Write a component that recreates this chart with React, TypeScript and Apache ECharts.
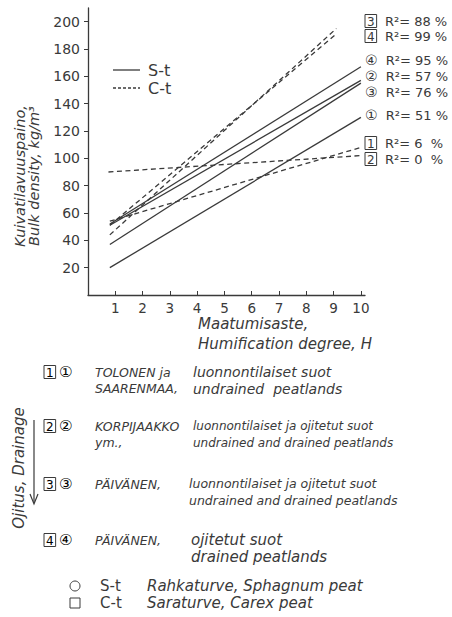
import React, { useEffect, useRef } from "react";
import * as echarts from "echarts";

const xTicks = [1, 2, 3, 4, 5, 6, 7, 8, 9, 10];
const yTicks = [20, 40, 60, 80, 100, 120, 140, 160, 180, 200];

// S-t (Sphagnum peat), solid lines, circled numbers
const st1 = [[0.8, 20], [10, 130]];
const st2 = [[0.8, 51], [10, 157]];
const st3 = [[0.8, 37], [10, 155]];
const st4 = [[0.8, 52], [10, 167]];
// C-t (Carex peat), dashed lines, boxed numbers
const ct1 = [[0.8, 54], [10, 108]];
const ct2 = [[0.75, 90], [10, 102]];
const ct3 = [[0.8, 44], [9.1, 195]];
const ct4 = [[0.8, 51], [9.1, 191]];

const rightLabels = [
  { mark: "box", n: "3", r2: "88 %" },
  { mark: "box", n: "4", r2: "99 %" },
  { mark: "circ", n: "④", r2: "95 %" },
  { mark: "circ", n: "②", r2: "57 %" },
  { mark: "circ", n: "③", r2: "76 %" },
  { mark: "circ", n: "①", r2: "51 %" },
  { mark: "box", n: "1", r2: "6  %" },
  { mark: "box", n: "2", r2: "0  %" },
];
const rightLabelY = [21, 36, 60, 76, 92, 115, 143, 159];

const authors = [
  ["TOLONEN ja", "SAARENMAA,"],
  ["KORPIJAAKKO", "ym.,"],
  ["PÄIVÄNEN,", ""],
  ["PÄIVÄNEN,", ""],
];
const descriptions = [
  ["luonnontilaiset suot", "undrained  peatlands"],
  ["luonnontilaiset ja ojitetut suot", "undrained and drained peatlands"],
  ["luonnontilaiset ja ojitetut suot", "undrained and drained peatlands"],
  ["ojitetut suot", "drained peatlands"],
];
const circled = ["①", "②", "③", "④"];

const INK = "#3a3a3a";
const FONT = "'DejaVu Sans', 'Noto Sans', sans-serif";

export default function App() {
  const ref = useRef<HTMLDivElement>(null);
  useEffect(() => {
    if (!ref.current) return;
    const chart = echarts.init(ref.current, null, { renderer: "svg" });

    const mkLine = (data: number[][], dashed: boolean) => ({
      type: "line",
      data,
      showSymbol: false,
      silent: true,
      lineStyle: { color: INK, width: 1.3, type: dashed ? [5, 3.5] : "solid" },
    });

    const graphics: any[] = [];
    const boxRich = {
      box: {
        borderColor: INK,
        borderWidth: 1,
        padding: [1, 2, 0, 2],
        fontSize: 12,
        fontFamily: FONT,
        color: INK,
      },
      c: { fontSize: 14, lineHeight: 13, fontFamily: FONT, color: INK },
      t: { fontSize: 13, lineHeight: 13, fontFamily: FONT, color: INK },
    };
    rightLabels.forEach((l, i) => {
      const txt =
        l.mark === "box"
          ? `{box|${l.n}}{t|  R²= ${l.r2}}`
          : `{c|${l.n}}{t|  R²= ${l.r2}}`;
      graphics.push({
        type: "text",
        x: 365,
        y: rightLabelY[i],
        style: { text: txt, rich: boxRich, verticalAlign: "middle", fill: INK },
      });
    });

    // inner legend
    graphics.push({ type: "line", shape: { x1: 113, y1: 70, x2: 140, y2: 70 }, style: { stroke: INK, lineWidth: 1.3 } });
    graphics.push({ type: "line", shape: { x1: 113, y1: 88, x2: 140, y2: 88 }, style: { stroke: INK, lineWidth: 1.3, lineDash: [3, 2] } });
    graphics.push({ type: "text", x: 148, y: 70, style: { text: "S-t", font: `16px ${FONT}`, fill: INK, verticalAlign: "middle" } });
    graphics.push({ type: "text", x: 148, y: 88, style: { text: "C-t", font: `16px ${FONT}`, fill: INK, verticalAlign: "middle" } });

    // y axis name
    graphics.push({
      type: "text",
      x: 27,
      y: 176,
      rotation: Math.PI / 2,
      style: {
        text: "Kuivatilavuuspaino,\nBulk density, kg/m³",
        font: `italic 14.5px ${FONT}`,
        lineHeight: 14,
        fill: INK,
        align: "center",
        verticalAlign: "middle",
      },
    });
    // x axis name
    graphics.push({
      type: "text",
      x: 198,
      y: 334,
      style: {
        text: "Maatumisaste,\nHumification degree, H",
        font: `italic 15px ${FONT}`,
        lineHeight: 20,
        fill: INK,
        verticalAlign: "middle",
      },
    });

    // bottom legend rows
    const rowY = [372, 426, 484, 540];
    const rowDescSize = [14, 12, 12.5, 15];
    const descX = [193, 193, 189, 191];
    rowY.forEach((y, i) => {
      graphics.push({
        type: "text",
        x: 44,
        y,
        style: {
          text: `{box|${i + 1}} {t|${circled[i]}}`,
          rich: { ...boxRich, t: { fontSize: 15, fontFamily: FONT, color: INK } },
          verticalAlign: "middle",
        },
      });
      const hasTwo = !!authors[i][1];
      graphics.push({
        type: "text",
        x: 95,
        y: hasTwo ? y + 8 : y,
        style: {
          text: hasTwo ? authors[i].join("\n") : authors[i][0],
          font: `italic 12.5px ${FONT}`,
          lineHeight: 16,
          fill: INK,
          verticalAlign: "middle",
        },
      });
      graphics.push({
        type: "text",
        x: descX[i],
        y: y + 8,
        style: {
          text: descriptions[i].join("\n"),
          font: `italic ${rowDescSize[i]}px ${FONT}`,
          lineHeight: 17,
          fill: INK,
          verticalAlign: "middle",
        },
      });
    });

    // Drainage arrow & label
    graphics.push({
      type: "text",
      x: 19,
      y: 468,
      rotation: Math.PI / 2,
      style: {
        text: "Ojitus, Drainage",
        font: `italic 15px ${FONT}`,
        fill: INK,
        align: "center",
        verticalAlign: "middle",
      },
    });
    graphics.push({ type: "line", shape: { x1: 34, y1: 420, x2: 34, y2: 503 }, style: { stroke: INK, lineWidth: 1.2 } });
    graphics.push({ type: "polyline", shape: { points: [[30, 494], [34, 504], [38, 494]] }, style: { stroke: INK, lineWidth: 1.2, fill: "none" } });

    // peat type legend
    graphics.push({ type: "circle", shape: { cx: 75, cy: 586, r: 5 }, style: { stroke: INK, lineWidth: 1, fill: "none" } });
    graphics.push({ type: "rect", shape: { x: 70, y: 598, width: 10, height: 10 }, style: { stroke: INK, lineWidth: 1, fill: "none" } });
    graphics.push({ type: "text", x: 100, y: 586, style: { text: "S-t", font: `15px ${FONT}`, fill: INK, verticalAlign: "middle" } });
    graphics.push({ type: "text", x: 100, y: 603, style: { text: "C-t", font: `15px ${FONT}`, fill: INK, verticalAlign: "middle" } });
    graphics.push({ type: "text", x: 147, y: 586, style: { text: "Rahkaturve, Sphagnum peat", font: `italic 15px ${FONT}`, fill: INK, verticalAlign: "middle" } });
    graphics.push({ type: "text", x: 147, y: 603, style: { text: "Saraturve, Carex peat", font: `italic 15px ${FONT}`, fill: INK, verticalAlign: "middle" } });

    chart.setOption({
      animation: false,
      backgroundColor: "#ffffff",
      grid: { left: 88, top: 8, width: 277, height: 287 },
      xAxis: {
        type: "value",
        min: 0,
        max: 10.15,
        interval: 1,
        splitLine: { show: false },
        axisLine: { show: true, lineStyle: { color: INK, width: 1.3 } },
        axisTick: { show: true, inside: true, length: 4, lineStyle: { color: INK }, customValues: xTicks },
        axisLabel: { color: INK, fontSize: 13.5, fontFamily: FONT, margin: 6, customValues: xTicks },
      },
      yAxis: {
        type: "value",
        min: 0,
        max: 210,
        interval: 20,
        splitLine: { show: false },
        axisLine: { show: true, lineStyle: { color: INK, width: 1.3 } },
        axisTick: { show: true, length: 4, lineStyle: { color: INK }, customValues: yTicks },
        axisLabel: { color: INK, fontSize: 14, fontFamily: FONT, margin: 8, customValues: yTicks },
      },
      series: [
        mkLine(st1, false),
        mkLine(st2, false),
        mkLine(st3, false),
        mkLine(st4, false),
        mkLine(ct1, true),
        mkLine(ct2, true),
        mkLine(ct3, true),
        mkLine(ct4, true),
      ],
      graphic: graphics,
    });
    return () => chart.dispose();
  }, []);
  return (
    <div
      ref={ref}
      style={{ position: "fixed", left: 0, top: 0, width: 452, height: 617, background: "#fff" }}
    />
  );
}
